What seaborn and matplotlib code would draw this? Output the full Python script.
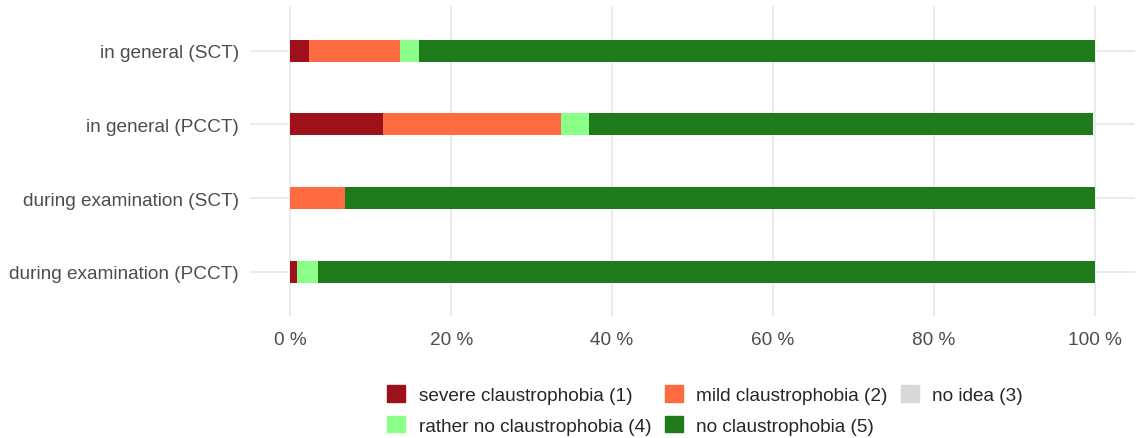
import pandas as pd
import matplotlib.pyplot as plt
import matplotlib.patches as mpatches
import seaborn as sns

# rows from top to bottom
items = ['in general (SCT)', 'in general (PCCT)',
         'during examination (SCT)', 'during examination (PCCT)']
categories = ['severe claustrophobia (1)', 'mild claustrophobia (2)', 'no idea (3)',
              'rather no claustrophobia (4)', 'no claustrophobia (5)']
colors = ['#9E111A', '#FF6B40', '#D9D9D9', '#8AFF8A', '#1F7A1C']

# percentage share of each answer, per row
severe = [2.3, 11.5, 0.0, 0.9]
mild = [11.4, 22.1, 6.8, 0.0]
no_idea = [0.0, 0.0, 0.0, 0.0]
rather_no = [2.3, 3.5, 0.0, 2.6]
no_claus = [84.0, 62.7, 93.2, 96.5]

shares = pd.DataFrame(dict(zip(categories, [severe, mild, no_idea, rather_no, no_claus])),
                      index=items)
cumulative = shares.cumsum(axis=1)

sns.set_theme(style="white")
plt.rcParams['font.family'] = ['Liberation Sans', 'DejaVu Sans']

fig = plt.figure(figsize=(11.39, 4.39), dpi=100)
ax = fig.add_axes([0.2195, 0.278, 0.777, 0.705])

# stacked bars: draw the running totals from the last category back to the first
for cat, col in reversed(list(zip(categories, colors))):
    df = pd.DataFrame({'item': items, 'value': cumulative[cat].values})
    sns.barplot(data=df, x='value', y='item', order=items, color=col,
                orient='h', width=0.3, ax=ax, saturation=1, linewidth=0, zorder=3)

ax.set_xlim(-5, 105)
ax.set_ylim(3.6, -0.6)
ax.set_xticks([0, 20, 40, 60, 80, 100])
ax.set_xticklabels([f'{v} %' for v in [0, 20, 40, 60, 80, 100]])
ax.set_xlabel('')
ax.set_ylabel('')
ax.grid(True, axis='both', color='#EBEBEB', linewidth=1.5, zorder=0)
ax.set_axisbelow(True)
for s in ax.spines.values():
    s.set_visible(False)
ax.tick_params(axis='both', length=0, labelsize=13.7, labelcolor='#4D4D4D')
ax.tick_params(axis='x', pad=11)
ax.tick_params(axis='y', pad=8)

# legend in row-major order (matplotlib fills columns first)
handles = [mpatches.Patch(color=c, label=l) for l, c in zip(categories, colors)]
order = [0, 3, 1, 4, 2]
fig.legend([handles[i] for i in order], [categories[i] for i in order],
           loc='upper center', bbox_to_anchor=(0.619, 0.137), ncol=3, frameon=False,
           fontsize=13.7, handlelength=0.95, handleheight=0.95, handletextpad=0.7,
           columnspacing=0.7, labelspacing=0.62, borderaxespad=0)

fig.savefig('out.png', dpi=100)
